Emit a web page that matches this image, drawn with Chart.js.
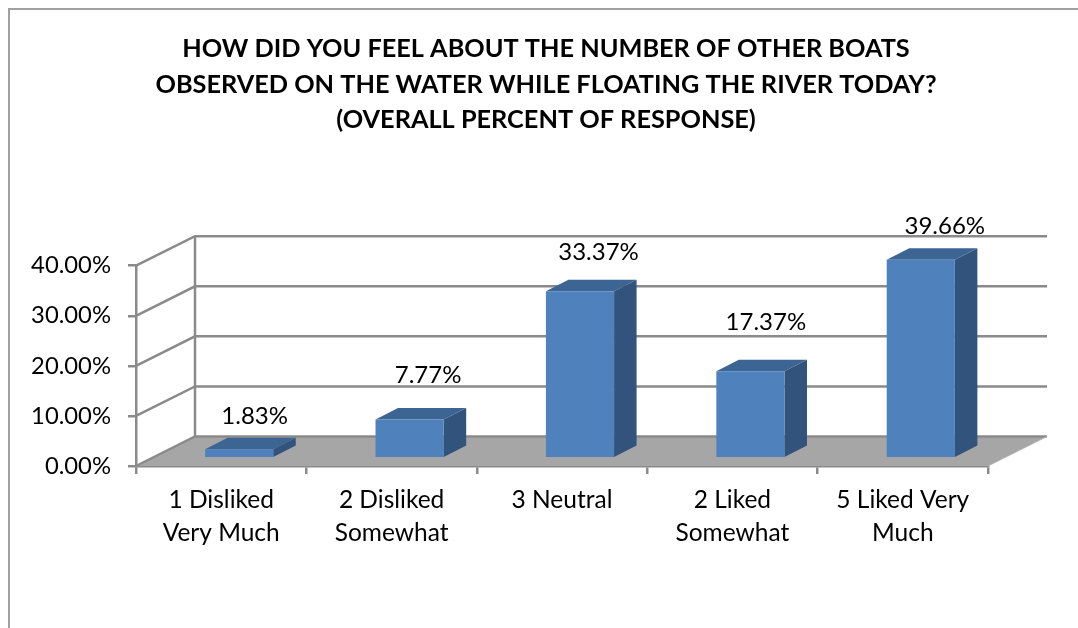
<!DOCTYPE html>
<html>
<head>
<meta charset="utf-8">
<title>Boats on the river</title>
<script src="https://cdn.jsdelivr.net/npm/chart.js@4"></script>
<style>
    html, body { margin: 0; padding: 0; background: #fff; overflow: hidden; }
    canvas { display: block; }
</style>
</head>
<body>
<canvas id="boatChart" width="1078" height="628"></canvas>
<script>
const titleLines = [
    "HOW DID YOU FEEL ABOUT THE NUMBER OF OTHER BOATS",
    "OBSERVED ON THE WATER WHILE FLOATING THE RIVER TODAY?",
    "(OVERALL PERCENT OF RESPONSE)"
];
const categories = [
    ["1 Disliked", "Very Much"],
    ["2 Disliked", "Somewhat"],
    ["3 Neutral"],
    ["2 Liked", "Somewhat"],
    ["5 Liked Very", "Much"]
];
const percentValues = [1.83, 7.77, 33.37, 17.37, 39.66];

// value labels were placed by hand in the original, so each one has its own offset from the bar
const labelLift = [33, 44, 39, 49, 33];
const labelSlide = [15.5, 18.5, 18.5, 15.5, 24];

const lineGray = "#8a8a8a";
const floorGray = "#a6a6a6";
const wallDepth = { x: 59, y: 29.5 };
const barShift = { x: 18, y: 7.7 };
const barDepth = { x: 22.5, y: 11.5 };

const chart3d = {
    id: "chart3d",
    afterLayout(chart) {
        // title is centred on the whole frame, not on the plot
        chart.titleBlock.left = 14;
        chart.titleBlock.right = chart.width;
    },
    beforeDraw(chart) {
        const ctx = chart.ctx;
        ctx.save();
        ctx.strokeStyle = "#a0a0a0";
        ctx.lineWidth = 2;
        ctx.beginPath();
        ctx.moveTo(9, chart.height);
        ctx.lineTo(9, 9);
        ctx.lineTo(chart.width, 9);
        ctx.stroke();
        ctx.restore();
    },
    beforeDatasetsDraw(chart) {
        const ctx = chart.ctx;
        const area = chart.chartArea;
        const yScale = chart.scales.y;

        ctx.save();
        // floor
        ctx.fillStyle = floorGray;
        ctx.beginPath();
        ctx.moveTo(area.left, area.bottom);
        ctx.lineTo(area.right, area.bottom);
        ctx.lineTo(area.right + wallDepth.x, area.bottom - wallDepth.y);
        ctx.lineTo(area.left + wallDepth.x, area.bottom - wallDepth.y);
        ctx.closePath();
        ctx.fill();

        // grid lines on the side and back walls
        ctx.strokeStyle = lineGray;
        ctx.lineWidth = 2.5;
        yScale.ticks.forEach(tick => {
            const y = yScale.getPixelForValue(tick.value);
            ctx.beginPath();
            ctx.moveTo(area.left, y);
            ctx.lineTo(area.left + wallDepth.x, y - wallDepth.y);
            ctx.lineTo(area.right + wallDepth.x, y - wallDepth.y);
            ctx.stroke();
        });
        ctx.beginPath();
        ctx.moveTo(area.left + wallDepth.x, area.top - wallDepth.y);
        ctx.lineTo(area.left + wallDepth.x, area.bottom - wallDepth.y);
        ctx.stroke();
        ctx.beginPath();
        ctx.moveTo(area.right, area.bottom);
        ctx.lineTo(area.right + wallDepth.x, area.bottom - wallDepth.y);
        ctx.strokeStyle = "#b4b4b4";
        ctx.lineWidth = 1;
        ctx.stroke();

        // top and side faces of the bars
        ctx.translate(barShift.x, -barShift.y);
        chart.getDatasetMeta(0).data.forEach(bar => {
            const left = bar.x - bar.width / 2;
            const right = bar.x + bar.width / 2;
            ctx.fillStyle = "#3d6594";
            ctx.beginPath();
            ctx.moveTo(left, bar.y);
            ctx.lineTo(right, bar.y);
            ctx.lineTo(right + barDepth.x, bar.y - barDepth.y);
            ctx.lineTo(left + barDepth.x, bar.y - barDepth.y);
            ctx.closePath();
            ctx.fill();
            ctx.fillStyle = "#32547c";
            ctx.beginPath();
            ctx.moveTo(right, bar.y);
            ctx.lineTo(right + barDepth.x, bar.y - barDepth.y);
            ctx.lineTo(right + barDepth.x, bar.base - barDepth.y);
            ctx.lineTo(right, bar.base);
            ctx.closePath();
            ctx.fill();
        });
        // leave the translate on so the front faces land on the same spot
    },
    afterDatasetsDraw(chart) {
        const ctx = chart.ctx;
        ctx.restore();

        ctx.save();
        ctx.fillStyle = "#000";
        ctx.font = "24px Lato";
        ctx.textAlign = "center";
        ctx.textBaseline = "middle";
        chart.getDatasetMeta(0).data.forEach((bar, i) => {
            const text = percentValues[i].toFixed(2) + "%";
            ctx.fillText(text, bar.x + barShift.x + labelSlide[i], bar.y - barShift.y - labelLift[i]);
        });
        ctx.restore();
    }
};

new Chart(document.getElementById("boatChart"), {
    type: "bar",
    data: {
        labels: categories,
        datasets: [{
            data: percentValues,
            backgroundColor: "#4f81bd",
            barPercentage: 0.4,
            categoryPercentage: 1,
            clip: false
        }]
    },
    plugins: [chart3d],
    options: {
        responsive: false,
        animation: false,
        layout: { padding: { left: 14, right: 90, top: 0, bottom: 82 } },
        plugins: {
            legend: { display: false },
            tooltip: { enabled: false },
            title: {
                display: true,
                text: titleLines,
                color: "#000",
                font: { family: "Lato", size: 25.3, weight: "bold", lineHeight: 1.41 },
                padding: { top: 31, bottom: 127.7 }
            }
        },
        scales: {
            x: {
                afterFit(scale) { scale.height = 80; },
                grid: { drawOnChartArea: false, color: lineGray, lineWidth: 2.5, tickLength: 8, offset: true },
                border: { color: lineGray, width: 2.5 },
                ticks: {
                    color: "#000",
                    font: { family: "Lato", size: 24.5, lineHeight: 1.37 },
                    padding: 9,
                    maxRotation: 0
                }
            },
            y: {
                min: 0,
                max: 40,
                afterFit(scale) { scale.width = 122; },
                grid: { drawOnChartArea: false, color: lineGray, lineWidth: 2.5, tickLength: 8 },
                border: { color: lineGray, width: 2.5 },
                ticks: {
                    stepSize: 10,
                    color: "#000",
                    font: { family: "Lato", size: 23.8 },
                    padding: 17,
                    callback: value => value.toFixed(2) + "%"
                }
            }
        }
    }
});
</script>
</body>
</html>
